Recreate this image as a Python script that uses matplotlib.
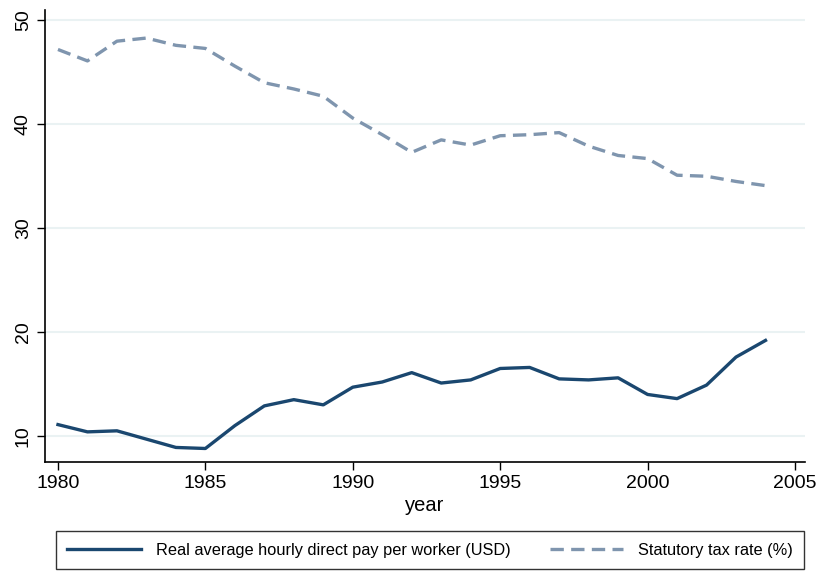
import matplotlib.pyplot as plt
import numpy as np

# --- Data ---
years = list(range(1980, 2005))
pay = [11.1, 10.4, 10.5, 9.7, 8.9, 8.8, 11.0, 12.9, 13.5, 13.0,
       14.7, 15.2, 16.1, 15.1, 15.4, 16.5, 16.6, 15.5, 15.4, 15.6,
       14.0, 13.6, 14.9, 17.6, 19.2]
tax = [47.2, 46.1, 48.0, 48.3, 47.6, 47.3, 45.6, 44.0, 43.4, 42.7,
       40.6, 39.0, 37.3, 38.5, 38.0, 38.9, 39.0, 39.2, 37.9, 37.0,
       36.7, 35.1, 35.0, 34.5, 34.1]
x_ticks = [1980, 1985, 1990, 1995, 2000, 2005]
y_ticks = [10, 20, 30, 40, 50]

plt.rcParams['font.family'] = ['Liberation Sans', 'DejaVu Sans']

fig = plt.figure(figsize=(8.19, 5.71), dpi=100)
ax = fig.add_axes([45 / 819, 1 - 462 / 571, 760 / 819, 452 / 571])

ax.plot(years, pay, color='#1a476f', lw=2.4, label='Real average hourly direct pay per worker (USD)')
ax.plot(years, tax, color='#7f95ae', lw=2.4, linestyle=(0, (4, 2.2)), label='Statutory tax rate (%)')

ax.set_xlim(1979.56, 2005.34)
ax.set_ylim(7.5, 51)
ax.set_xticks(x_ticks)
ax.set_yticks(y_ticks)
ax.set_yticklabels([str(v) for v in y_ticks], rotation=90, va='center')
ax.tick_params(labelsize=14, length=6, width=1, colors='black')
ax.set_xlabel('year', fontsize=14.5, labelpad=3)

for s in ['top', 'right']:
    ax.spines[s].set_visible(False)
for s in ['left', 'bottom']:
    ax.spines[s].set_linewidth(1.2)

ax.grid(axis='y', color='#eaf2f3', lw=1.5)
ax.set_axisbelow(True)

leg = fig.legend(loc='center', bbox_to_anchor=(430 / 819, 1 - 550 / 571), ncol=2,
                 fontsize=11.8, frameon=True, fancybox=False, edgecolor='black',
                 handlelength=4.5, handletextpad=0.9, columnspacing=2.4, borderpad=0.7)
leg.get_frame().set_linewidth(1.0)

fig.savefig('out.png', dpi=100)
